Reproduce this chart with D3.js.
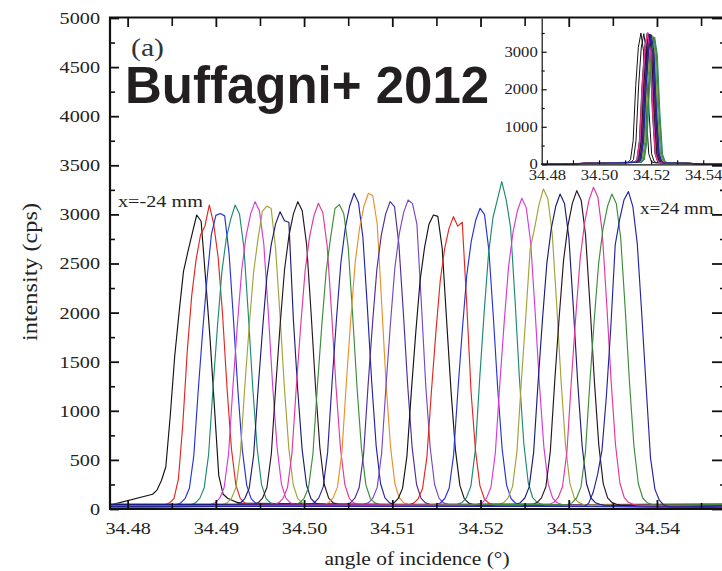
<!DOCTYPE html>
<html><head><meta charset="utf-8">
<script src="https://cdn.jsdelivr.net/npm/d3@7"></script>
<style>body{margin:0;background:#fff}svg{display:block}</style>
</head><body>
<svg id="c" width="722" height="571"></svg>
<script>
// ---------- DATA ----------
const positionsMm = [-24,-22,-20,-18,-16,-14,-12,-10,-8,-6,-4,-2,0,2,4,6,8,10,12,14,16,18,20,22,24];
const STEP = 0.0005;           // scan step (deg)
const peakAngle = [34.48783,34.48926,34.49050,34.49218,34.49444,34.49577,34.49728,34.49929,34.50162,34.50400,
  34.50567,34.50729,34.50975,34.51179,34.51466,34.51693,34.51995,34.52241,34.52468,34.52713,
  34.52902,34.53091,34.53280,34.53489,34.53677];
// counts at peakAngle + (k-10)*STEP, k = 0..20
const mainCounts = [
 [150,193,290,430,950,1550,2000,2420,2620,2810,2994,2930,2350,1750,1050,340,150,110,90,70,60],
 [46,62,108,310,870,1610,2170,2540,2790,2880,3096,2900,2560,1981,1238,619,248,108,62,46,37],
 [45,60,105,211,542,1204,1806,2348,2800,2990,3010,2985,2600,1926,1204,602,241,105,60,45,36],
 [46,62,108,217,557,1238,1858,2415,2755,2950,3096,3003,2663,1981,1238,619,248,108,62,46,37],
 [47,63,110,219,563,1252,1878,2441,2786,3005,3130,3036,2692,2003,1252,626,250,110,63,47,38],
 [46,62,108,216,555,1234,1851,2406,2746,3030,3085,3060,2653,1974,1234,617,247,108,62,46,37],
 [45,61,106,212,545,1211,1816,2361,2694,2906,3027,2935,2920,1940,1211,605,242,106,61,45,36],
 [47,63,110,219,563,1252,1878,2441,2786,3005,3130,3036,2692,2003,1252,626,250,110,63,47,38],
 [47,62,109,218,560,1245,1868,2428,2771,2988,3113,3020,2677,1992,1245,623,249,109,62,47,37],
 [47,62,109,217,558,1240,1860,2418,2759,3060,3100,3007,2666,1984,1240,620,248,109,62,47,37],
 [48,64,113,225,579,1286,1929,2508,2861,3086,3215,3119,2765,2058,1286,643,257,113,64,48,39],
 [48,64,113,225,579,1286,1929,2508,2861,3086,3215,3190,2900,2100,1286,643,257,113,64,48,39],
 [47,63,110,219,563,1252,1878,2441,2786,3005,3130,3080,2692,2003,1252,626,250,110,63,47,38],
 [47,63,110,220,566,1259,1888,2455,2801,3021,3147,3110,2900,2100,1259,629,252,110,63,47,38],
 [45,60,105,210,539,1198,1796,2335,2665,2900,2994,2980,2650,1916,1198,599,240,105,60,45,36],
 [45,60,104,208,536,1191,1786,2322,2650,2858,2977,2880,2920,2100,1191,595,238,104,60,45,36],
 [46,61,107,214,551,1225,1837,2388,2725,2940,3062,3000,2633,1960,1225,612,245,107,61,46,37],
 [50,67,117,233,600,1333,2000,2600,2966,3150,3333,3150,2866,2133,1333,667,267,117,67,50,40],
 [47,63,111,221,570,1266,1898,2468,2816,3037,3164,3069,2721,2025,1266,633,253,111,63,47,38],
 [49,65,114,228,587,1304,1955,2650,2860,3100,3259,3161,2803,2086,1304,652,261,114,65,49,39],
 [48,64,112,225,577,1283,1925,2502,2855,3080,3208,3112,2759,2053,1283,642,257,112,64,48,38],
 [49,65,113,227,584,1297,1945,2529,2885,3112,3242,3145,2788,2075,1297,648,259,113,65,49,39],
 [49,66,115,229,590,1310,1966,2555,2916,3145,3276,3178,2817,2097,1310,655,262,115,66,49,39],
 [48,64,112,225,577,1283,1925,2502,2855,3080,3208,3112,2759,2053,1283,642,257,112,64,48,38],
 [25,60,170,350,600,1150,1850,2690,2950,3150,3232,3080,2700,1996,1250,520,200,90,40,25,20]
];
const scanEdges = [34.478, 34.5476];
// baseline counts at the two ends of the scan
const baseLeft  = [40,22,35,18,45,28,15,38,24,50,20,33,42,16,30,26,48,19,36,24,44,21,31,17,27];
const baseRight = [18,42,25,47,20,36,50,22,40,15,38,27,19,45,23,41,16,34,28,46,21,39,24,44,30];

// inset (after correction)
const INSET_STEP = 0.001;
const insetPeak = [34.5161,34.5189,34.5196,34.5206,34.5188,34.5200,34.5194,34.5185,34.5190,34.5210,
  34.5198,34.5193,34.5191,34.5199,34.5172,34.5187,34.5202,34.5214,34.5189,34.5204,
  34.5197,34.5192,34.5186,34.5212,34.5201];
const insetCounts = [
 [53,123,630,2100,3115,3500,3010,1400,280,70,42],
 [52,122,626,2088,3097,3480,2993,1392,278,70,42],
 [52,121,623,2076,3079,3460,2976,1384,277,69,42],
 [51,120,616,2052,3044,3420,2941,1368,274,68,41],
 [53,123,632,2106,3124,3510,3019,1404,281,70,42],
 [52,120,619,2064,3062,3440,2958,1376,275,69,41],
 [52,121,625,2082,3088,3470,2984,1388,278,69,42],
 [52,122,628,2094,3106,3490,3001,1396,279,70,42],
 [53,123,630,2100,3115,3500,3010,1400,280,70,42],
 [51,119,612,2040,3026,3400,2924,1360,272,68,41],
 [52,121,621,2070,3071,3450,2967,1380,276,69,41],
 [52,121,625,2082,3088,3470,2984,1388,278,69,42],
 [52,122,626,2088,3097,3480,2993,1392,278,70,42],
 [52,121,623,2076,3079,3460,2976,1384,277,69,42],
 [52,122,626,2088,3097,3480,2993,1392,278,70,42],
 [52,122,628,2094,3106,3490,3001,1396,279,70,42],
 [52,120,619,2064,3062,3440,2958,1376,275,69,41],
 [51,118,608,2028,3008,3380,2907,1352,270,68,41],
 [53,123,630,2100,3115,3500,3010,1400,280,70,42],
 [51,120,617,2058,3053,3430,2950,1372,274,69,41],
 [52,121,623,2076,3079,3460,2976,1384,277,69,42],
 [52,121,625,2082,3088,3470,2984,1388,278,69,42],
 [53,123,632,2106,3124,3510,3019,1404,281,70,42],
 [51,119,610,2034,3017,3390,2915,1356,271,68,41],
 [52,121,621,2070,3071,3450,2967,1380,276,69,41]
];

const palette = ["#141414","#e4261f","#2633d4","#1e8a6e","#d63ad4","#a2a23a","#1c1c78",
                 "#2a1420","#e2389c","#3c8c3c","#2424a0","#e8902c","#4c2c9c","#7848c4"];

const xMajorTicks = [34.48,34.49,34.50,34.51,34.52,34.53,34.54];
const xMinorTicks = [34.485,34.495,34.505,34.515,34.525,34.535,34.545];
const yMajorTicks = [0,500,1000,1500,2000,2500,3000,3500,4000,4500,5000];
const yMinorTicks = [250,750,1250,1750,2250,2750,3250,3750,4250,4750];
const insetYMajor = [0,1000,2000,3000];
const insetYMinor = [500,1500,2500,3500];
const insetXMajor = [34.48,34.50,34.52,34.54];
const insetXMinor = [34.49,34.51,34.53];

// ---------- DRAW ----------
const svg = d3.select("#c");
const SERIF = "'Liberation Serif','Times New Roman',serif";
const SX = 1.19;
const TXT = "#222";
const fmtInt = d3.format("d");
const fmtAng = d3.format(".2f");

const L = 110, R = 724, T = 18, B = 509;
const X = d3.scaleLinear().domain(scanEdges).range([L, R]);
const Y = d3.scaleLinear().domain([0, 5000]).range([B, T]);

const XI = d3.scaleLinear().domain(scanEdges).range([541.7, 723]);
const YI = d3.scaleLinear().domain([0, 3900]).range([164.3, 18]);

function stretch(sel){
  sel.each(function(){
    const t = d3.select(this);
    const x = +t.attr("x") || 0, y = +t.attr("y") || 0;
    t.attr("x", 0).attr("y", 0).attr("transform", `translate(${x},${y}) scale(${SX},1)`);
  });
}

svg.append("defs").append("clipPath").attr("id","clipMain")
  .append("rect").attr("x",L).attr("y",T).attr("width",R-L).attr("height",B-T+2);

function buildPoints(center, counts, step, b0, b1){
  const half = (counts.length - 1) / 2;
  const pts = [[scanEdges[0], b0]];
  counts.forEach((c,k) => pts.push([center + (k - half) * step, c]));
  pts.push([scanEdges[1], b1]);
  return pts;
}

// main curves
const line = d3.line().x(d => X(d[0])).y(d => Y(d[1]));
const gCurves = svg.append("g").attr("clip-path","url(#clipMain)");
peakAngle.forEach((p,i) => {
  gCurves.append("path")
    .datum(buildPoints(p, mainCounts[i], STEP, baseLeft[i], baseRight[i]))
    .attr("d", line).attr("fill","none")
    .attr("stroke", palette[i % palette.length])
    .attr("stroke-width", 1.15).attr("stroke-linejoin","round");
});

// inset curves
const lineI = d3.line().x(d => XI(d[0])).y(d => YI(d[1]));
const gInset = svg.append("g");
insetPeak.forEach((p,i) => {
  gInset.append("path")
    .datum(buildPoints(p, insetCounts[i], INSET_STEP, 0, 0))
    .attr("d", lineI).attr("fill","none")
    .attr("stroke", palette[i % palette.length])
    .attr("stroke-width", 1).attr("stroke-linejoin","round");
});

// inset axes
const iLeft = svg.append("g").attr("transform","translate(541.7,0)")
  .call(d3.axisLeft(YI).tickValues(insetYMajor).tickSize(-5).tickPadding(4).tickSizeOuter(0).tickFormat(fmtInt));
svg.append("g").attr("transform","translate(541.7,0)")
  .call(d3.axisLeft(YI).tickValues(insetYMinor).tickSize(-3).tickFormat("").tickSizeOuter(0))
  .select(".domain").remove();
const iBottom = svg.append("g").attr("transform","translate(0,164.3)")
  .call(d3.axisBottom(XI).tickValues(insetXMajor).tickSize(-4).tickPadding(6).tickFormat(fmtAng).tickSizeOuter(0));
svg.append("g").attr("transform","translate(0,164.3)")
  .call(d3.axisBottom(XI).tickValues(insetXMinor).tickSize(-4).tickFormat("").tickSizeOuter(0))
  .select(".domain").remove();
[iLeft, iBottom].forEach(g => {
  g.select(".domain").attr("stroke","#111").attr("stroke-width",1.2);
  g.selectAll("text").attr("font-family",SERIF).attr("font-size",14).attr("fill",TXT).call(stretch);
});
svg.selectAll(".tick line").attr("stroke","#111").attr("stroke-width",1.2);

// main axes
function styleAxis(g, w){
  g.select(".domain").remove();
  g.selectAll(".tick line").attr("stroke","#111").attr("stroke-width", w);
}
const gLeft = svg.append("g").attr("transform",`translate(${L},0)`)
  .call(d3.axisLeft(Y).tickValues(yMajorTicks).tickSize(-9).tickPadding(10).tickFormat(fmtInt));
styleAxis(gLeft, 1.8);
gLeft.selectAll("text").attr("font-family",SERIF).attr("font-size",17).attr("fill",TXT).call(stretch);
styleAxis(svg.append("g").attr("transform",`translate(${L},0)`)
  .call(d3.axisLeft(Y).tickValues(yMinorTicks).tickSize(-5).tickFormat("")), 1.6);

const gRight = svg.append("g").attr("transform",`translate(${R},0)`)
  .call(d3.axisRight(Y).tickValues(yMajorTicks).tickSize(-12).tickFormat(""));
styleAxis(gRight, 1.8);
styleAxis(svg.append("g").attr("transform",`translate(${R},0)`)
  .call(d3.axisRight(Y).tickValues(yMinorTicks).tickSize(-4).tickFormat("")), 1.6);

const gBottom = svg.append("g").attr("transform",`translate(0,${B})`)
  .call(d3.axisBottom(X).tickValues(xMajorTicks).tickSize(-9).tickPadding(13).tickFormat(fmtAng));
styleAxis(gBottom, 1.8);
gBottom.selectAll("text").attr("font-family",SERIF).attr("font-size",17).attr("fill",TXT).call(stretch);
styleAxis(svg.append("g").attr("transform",`translate(0,${B})`)
  .call(d3.axisBottom(X).tickValues(xMinorTicks).tickSize(-6).tickFormat("")), 1.6);

styleAxis(svg.append("g").attr("transform",`translate(0,${T})`)
  .call(d3.axisTop(X).tickValues(xMajorTicks).tickSize(-9).tickFormat("")), 1.8);
styleAxis(svg.append("g").attr("transform",`translate(0,${T})`)
  .call(d3.axisTop(X).tickValues(xMinorTicks).tickSize(-8).tickFormat("")), 1.6);

// frame
svg.append("path")
  .attr("d", `M${R},${T-0.5}H${L}V${B}H${R}`)
  .attr("fill","none").attr("stroke","#111").attr("stroke-width",2.2);

// axis titles
svg.append("text").attr("x",417).attr("y",565).attr("text-anchor","middle")
  .attr("font-family",SERIF).attr("font-size",18).attr("fill",TXT)
  .text("angle of incidence (°)").call(stretch);
svg.append("text").attr("transform","translate(37,272) rotate(-90)")
  .attr("text-anchor","middle").attr("font-family",SERIF).attr("font-size",20).attr("fill",TXT)
  .attr("textLength",138).attr("lengthAdjust","spacingAndGlyphs")
  .text("intensity (cps)");

// annotations
svg.append("text").attr("x",131).attr("y",56).attr("font-family",SERIF).attr("font-size",25)
  .attr("fill","#333").text("(a)").call(stretch);
svg.append("text").attr("x",118).attr("y",207).attr("font-family",SERIF).attr("font-size",17)
  .attr("fill",TXT).text(`x=${positionsMm[0]} mm`).call(stretch);
svg.append("text").attr("x",640).attr("y",214).attr("font-family",SERIF).attr("font-size",16)
  .attr("fill",TXT).text(`x=${positionsMm[positionsMm.length-1]} mm`).call(stretch);

svg.append("text").attr("x",125).attr("y",103)
  .attr("font-family","'Liberation Sans',Arial,sans-serif").attr("font-weight","bold")
  .attr("font-size",51).attr("fill","#231f20").text("Buffagni+ 2012");
</script>
</body></html>
